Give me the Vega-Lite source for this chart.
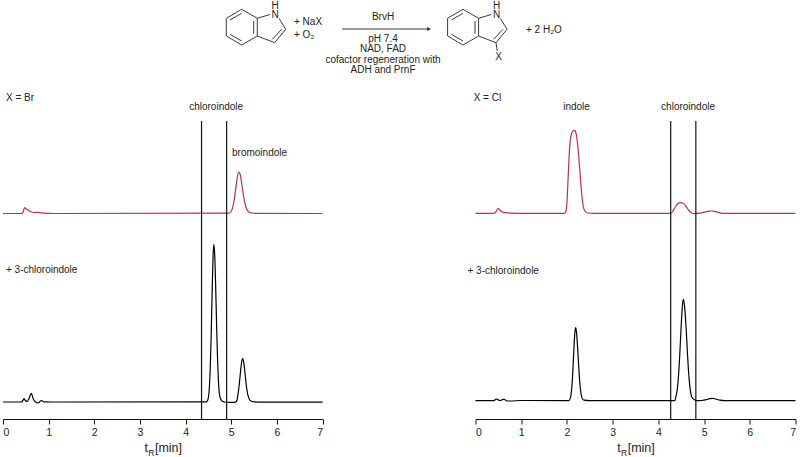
{
"$schema":"https://vega.github.io/schema/vega-lite/v6.json",
"padding":0,
"background":"white",
"spacing":0,
"bounds":"flush",
"config":{"view":{"stroke":null},"concat":{"spacing":0},"text":{"font":"Liberation Sans"},"axis":{"labelFont":"Liberation Sans","titleFont":"Liberation Sans"}},
"datasets":{
"bonds":[
{"x":242.7,"y":8.3,"x2":258.3,"y2":17.3},{"x":258.3,"y":17.3,"x2":258.3,"y2":35},{"x":258.3,"y":35,"x2":242.7,"y2":44},{"x":242.7,"y":44,"x2":227.3,"y2":35},{"x":227.3,"y":35,"x2":227.3,"y2":17.3},{"x":227.3,"y":17.3,"x2":242.7,"y2":8.3},
{"x":231,"y":19,"x2":242.7,"y2":12.3},{"x":254.7,"y":20,"x2":254.7,"y2":32.7},{"x":231,"y":33.3,"x2":242.7,"y2":40},
{"x":258.3,"y":17.3,"x2":271,"y2":13.5},{"x":280,"y":17.3,"x2":286.7,"y2":28.3},{"x":286.7,"y":28.3,"x2":275.7,"y2":41.7},{"x":282.7,"y":28.3,"x2":273.3,"y2":38.3},{"x":275.7,"y":41.7,"x2":258.3,"y2":35},
{"x":464,"y":8.3,"x2":479.6,"y2":17.3},{"x":479.6,"y":17.3,"x2":479.6,"y2":35},{"x":479.6,"y":35,"x2":464,"y2":44},{"x":464,"y":44,"x2":448.6,"y2":35},{"x":448.6,"y":35,"x2":448.6,"y2":17.3},{"x":448.6,"y":17.3,"x2":464,"y2":8.3},
{"x":452.3,"y":19,"x2":464,"y2":12.3},{"x":476,"y":20,"x2":476,"y2":32.7},{"x":452.3,"y":33.3,"x2":464,"y2":40},
{"x":479.6,"y":17.3,"x2":492.3,"y2":13.5},{"x":501.3,"y":17.3,"x2":508,"y2":28.3},{"x":508,"y":28.3,"x2":497,"y2":41.7},{"x":504,"y":28.3,"x2":494.6,"y2":38.3},{"x":497,"y":41.7,"x2":479.6,"y2":35},{"x":497,"y":41.7,"x2":498.3,"y2":50},
{"x":343,"y":28,"x2":428,"y2":28}
],
"schemeText":[
{"x":276,"y":14,"label":"N"},{"x":276,"y":4.5,"label":"H"},{"x":497.5,"y":14,"label":"N"},{"x":497.5,"y":4.5,"label":"H"},{"x":499.5,"y":55.7,"label":"X"},
{"x":384,"y":16,"label":"BrvH"},{"x":384,"y":37.5,"label":"pH 7.4"},{"x":384,"y":48,"label":"NAD, FAD"},{"x":384,"y":58.5,"label":"cofactor regeneration with"},{"x":384,"y":69,"label":"ADH and PrnF"}
],
"schemeLeft":[
{"x":295,"y":21,"label":"+ NaX"},{"x":295,"y":34,"label":"+ O₂"},{"x":527,"y":29,"label":"+ 2 H₂O"}
],
"left":[
{"t":0,"signal":205.5,"series":"X"},{"t":0.42,"signal":205.5,"series":"X"},{"t":0.44,"signal":207,"series":"X"},{"t":0.46,"signal":210,"series":"X"},{"t":0.48,"signal":211.3,"series":"X"},{"t":0.5,"signal":210.5,"series":"X"},{"t":0.54,"signal":209,"series":"X"},{"t":0.6,"signal":207.5,"series":"X"},{"t":0.68,"signal":206.5,"series":"X"},{"t":0.75,"signal":206.6,"series":"X"},{"t":0.8,"signal":206.4,"series":"X"},{"t":0.9,"signal":205.8,"series":"X"},{"t":1.1,"signal":205.5,"series":"X"},{"t":4.95,"signal":205.8,"series":"X"},{"t":4.99,"signal":207,"series":"X"},{"t":5.03,"signal":211.1,"series":"X"},{"t":5.07,"signal":220.4,"series":"X"},{"t":5.11,"signal":234.1,"series":"X"},{"t":5.14,"signal":243.3,"series":"X"},{"t":5.17,"signal":247,"series":"X"},{"t":5.2,"signal":243.8,"series":"X"},{"t":5.23,"signal":235.5,"series":"X"},{"t":5.27,"signal":223,"series":"X"},{"t":5.31,"signal":214,"series":"X"},{"t":5.35,"signal":209,"series":"X"},{"t":5.39,"signal":207,"series":"X"},{"t":5.45,"signal":206,"series":"X"},{"t":5.52,"signal":205.6,"series":"X"},{"t":7,"signal":205.5,"series":"X"},
{"t":0,"signal":17,"series":"Cl"},{"t":0.4,"signal":17,"series":"Cl"},{"t":0.43,"signal":18,"series":"Cl"},{"t":0.46,"signal":20.3,"series":"Cl"},{"t":0.49,"signal":18.5,"series":"Cl"},{"t":0.53,"signal":17.5,"series":"Cl"},{"t":0.57,"signal":20.5,"series":"Cl"},{"t":0.62,"signal":25.7,"series":"Cl"},{"t":0.66,"signal":20.5,"series":"Cl"},{"t":0.71,"signal":17,"series":"Cl"},{"t":0.77,"signal":16,"series":"Cl"},{"t":0.84,"signal":18.5,"series":"Cl"},{"t":0.9,"signal":17.2,"series":"Cl"},{"t":1.2,"signal":17,"series":"Cl"},{"t":4.46,"signal":17.2,"series":"Cl"},{"t":4.48,"signal":18.2,"series":"Cl"},{"t":4.5,"signal":21.5,"series":"Cl"},{"t":4.52,"signal":30.4,"series":"Cl"},{"t":4.54,"signal":49.5,"series":"Cl"},{"t":4.56,"signal":81.8,"series":"Cl"},{"t":4.58,"signal":123,"series":"Cl"},{"t":4.6,"signal":160,"series":"Cl"},{"t":4.62,"signal":174.7,"series":"Cl"},{"t":4.64,"signal":162.6,"series":"Cl"},{"t":4.66,"signal":131.5,"series":"Cl"},{"t":4.68,"signal":93.8,"series":"Cl"},{"t":4.7,"signal":60.8,"series":"Cl"},{"t":4.72,"signal":38.3,"series":"Cl"},{"t":4.74,"signal":25.8,"series":"Cl"},{"t":4.76,"signal":21,"series":"Cl"},{"t":4.8,"signal":18,"series":"Cl"},{"t":4.85,"signal":17,"series":"Cl"},{"t":4.95,"signal":16.7,"series":"Cl"},{"t":5.08,"signal":16.7,"series":"Cl"},{"t":5.11,"signal":17.5,"series":"Cl"},{"t":5.13,"signal":19.5,"series":"Cl"},{"t":5.15,"signal":25.3,"series":"Cl"},{"t":5.17,"signal":32,"series":"Cl"},{"t":5.19,"signal":40.9,"series":"Cl"},{"t":5.21,"signal":50,"series":"Cl"},{"t":5.23,"signal":57.5,"series":"Cl"},{"t":5.25,"signal":60.3,"series":"Cl"},{"t":5.27,"signal":57.8,"series":"Cl"},{"t":5.29,"signal":51,"series":"Cl"},{"t":5.31,"signal":42.5,"series":"Cl"},{"t":5.33,"signal":34,"series":"Cl"},{"t":5.36,"signal":25,"series":"Cl"},{"t":5.39,"signal":20.5,"series":"Cl"},{"t":5.43,"signal":18,"series":"Cl"},{"t":5.5,"signal":17.2,"series":"Cl"},{"t":5.7,"signal":16.8,"series":"Cl"},{"t":7,"signal":16.8,"series":"Cl"}
],
"right":[
{"t":0,"signal":205.7,"series":"X"},{"t":0.4,"signal":205.7,"series":"X"},{"t":0.44,"signal":206.5,"series":"X"},{"t":0.47,"signal":209,"series":"X"},{"t":0.5,"signal":210.7,"series":"X"},{"t":0.53,"signal":209,"series":"X"},{"t":0.58,"signal":207.3,"series":"X"},{"t":0.65,"signal":206.3,"series":"X"},{"t":0.8,"signal":205.9,"series":"X"},{"t":1,"signal":205.7,"series":"X"},{"t":1.93,"signal":205.7,"series":"X"},{"t":1.96,"signal":206,"series":"X"},{"t":1.98,"signal":208,"series":"X"},{"t":2,"signal":216,"series":"X"},{"t":2.02,"signal":235,"series":"X"},{"t":2.04,"signal":255,"series":"X"},{"t":2.06,"signal":272,"series":"X"},{"t":2.08,"signal":281,"series":"X"},{"t":2.11,"signal":286.5,"series":"X"},{"t":2.15,"signal":288.7,"series":"X"},{"t":2.18,"signal":288,"series":"X"},{"t":2.21,"signal":283,"series":"X"},{"t":2.24,"signal":272,"series":"X"},{"t":2.27,"signal":256,"series":"X"},{"t":2.3,"signal":238,"series":"X"},{"t":2.33,"signal":222,"series":"X"},{"t":2.36,"signal":212,"series":"X"},{"t":2.4,"signal":207.5,"series":"X"},{"t":2.45,"signal":206,"series":"X"},{"t":2.6,"signal":205.7,"series":"X"},{"t":4.25,"signal":205.7,"series":"X"},{"t":4.27,"signal":205.8,"series":"X"},{"t":4.32,"signal":208,"series":"X"},{"t":4.37,"signal":212,"series":"X"},{"t":4.42,"signal":215,"series":"X"},{"t":4.48,"signal":216.3,"series":"X"},{"t":4.54,"signal":215.8,"series":"X"},{"t":4.6,"signal":213,"series":"X"},{"t":4.66,"signal":209,"series":"X"},{"t":4.72,"signal":206.3,"series":"X"},{"t":4.8,"signal":205.3,"series":"X"},{"t":4.9,"signal":205.8,"series":"X"},{"t":5,"signal":206.8,"series":"X"},{"t":5.1,"signal":207.8,"series":"X"},{"t":5.17,"signal":208,"series":"X"},{"t":5.25,"signal":207.4,"series":"X"},{"t":5.35,"signal":206.2,"series":"X"},{"t":5.45,"signal":205.6,"series":"X"},{"t":5.6,"signal":205.7,"series":"X"},{"t":7,"signal":205.7,"series":"X"},
{"t":0,"signal":18.3,"series":"Cl"},{"t":0.4,"signal":18.3,"series":"Cl"},{"t":0.44,"signal":19.5,"series":"Cl"},{"t":0.47,"signal":20,"series":"Cl"},{"t":0.5,"signal":19,"series":"Cl"},{"t":0.55,"signal":18.5,"series":"Cl"},{"t":0.6,"signal":19.6,"series":"Cl"},{"t":0.63,"signal":19.6,"series":"Cl"},{"t":0.68,"signal":18.2,"series":"Cl"},{"t":0.75,"signal":18,"series":"Cl"},{"t":1,"signal":18.5,"series":"Cl"},{"t":2.04,"signal":18.4,"series":"Cl"},{"t":2.07,"signal":20.4,"series":"Cl"},{"t":2.09,"signal":24.5,"series":"Cl"},{"t":2.11,"signal":33.3,"series":"Cl"},{"t":2.13,"signal":48.3,"series":"Cl"},{"t":2.15,"signal":67.5,"series":"Cl"},{"t":2.17,"signal":84.4,"series":"Cl"},{"t":2.19,"signal":91.3,"series":"Cl"},{"t":2.21,"signal":86.6,"series":"Cl"},{"t":2.23,"signal":74.4,"series":"Cl"},{"t":2.25,"signal":58.6,"series":"Cl"},{"t":2.27,"signal":43.6,"series":"Cl"},{"t":2.29,"signal":32,"series":"Cl"},{"t":2.31,"signal":25,"series":"Cl"},{"t":2.34,"signal":20,"series":"Cl"},{"t":2.38,"signal":18.8,"series":"Cl"},{"t":2.5,"signal":18.3,"series":"Cl"},{"t":4.36,"signal":18.3,"series":"Cl"},{"t":4.38,"signal":21.6,"series":"Cl"},{"t":4.41,"signal":28.3,"series":"Cl"},{"t":4.44,"signal":42.5,"series":"Cl"},{"t":4.47,"signal":65.8,"series":"Cl"},{"t":4.5,"signal":93.7,"series":"Cl"},{"t":4.53,"signal":115,"series":"Cl"},{"t":4.55,"signal":119.7,"series":"Cl"},{"t":4.58,"signal":109.6,"series":"Cl"},{"t":4.61,"signal":88.6,"series":"Cl"},{"t":4.64,"signal":62.7,"series":"Cl"},{"t":4.67,"signal":41.6,"series":"Cl"},{"t":4.7,"signal":28.6,"series":"Cl"},{"t":4.73,"signal":22,"series":"Cl"},{"t":4.77,"signal":20,"series":"Cl"},{"t":4.83,"signal":18.3,"series":"Cl"},{"t":4.95,"signal":18.5,"series":"Cl"},{"t":5.05,"signal":19.3,"series":"Cl"},{"t":5.12,"signal":20.3,"series":"Cl"},{"t":5.18,"signal":20.7,"series":"Cl"},{"t":5.25,"signal":20,"series":"Cl"},{"t":5.35,"signal":18.8,"series":"Cl"},{"t":5.45,"signal":18.3,"series":"Cl"},{"t":7,"signal":18.3,"series":"Cl"}
]
},
"vconcat":[
{"width":796,"height":90,
"layer":[
{"data":{"name":"bonds"},"mark":{"type":"rule","color":"#222","strokeWidth":0.9},"encoding":{
"x":{"field":"x","type":"quantitative","scale":{"domain":[4,800],"nice":false},"axis":null},
"x2":{"field":"x2"},
"y":{"field":"y","type":"quantitative","scale":{"domain":[90,0],"nice":false},"axis":null},
"y2":{"field":"y2"}}},
{"data":{"values":[{"x":430,"y":28}]},"mark":{"type":"point","shape":"triangle-right","filled":true,"size":18,"color":"#222","opacity":1},"encoding":{"x":{"field":"x","type":"quantitative"},"y":{"field":"y","type":"quantitative"}}},
{"data":{"name":"schemeText"},"mark":{"type":"text","fontSize":10,"color":"#222","baseline":"middle","align":"center"},"encoding":{"x":{"field":"x","type":"quantitative"},"y":{"field":"y","type":"quantitative"},"text":{"field":"label"}}},
{"data":{"name":"schemeLeft"},"mark":{"type":"text","fontSize":10,"color":"#222","baseline":"middle","align":"left"},"encoding":{"x":{"field":"x","type":"quantitative"},"y":{"field":"y","type":"quantitative"},"text":{"field":"label"}}}
]},
{"bounds":"flush","spacing":152.5,"hconcat":[
{"width":319.5,"height":328,
"layer":[
{"data":{"name":"left"},"mark":{"type":"line","strokeWidth":1.2,"interpolate":"monotone"},"encoding":{
"x":{"field":"t","type":"quantitative","scale":{"domain":[0,7],"nice":false},"axis":{"title":"t\u00a0\u00a0[min]","values":[0,0.5,1,1.5,2,2.5,3,3.5,4,4.5,5,5.5,6,6.5,7],"labelExpr":"datum.value % 1 === 0 ? datum.label : ''","grid":false,"domainColor":"#111","tickColor":"#111","domainWidth":1.1,"tickWidth":1,"tickSize":{"condition":{"test":"datum.value % 1 !== 0","value":3},"value":5},"labelFontSize":10.5,"labelColor":"#222","labelPadding":3,"titleFontSize":12.5,"titleFontWeight":"normal","titleColor":"#222","titlePadding":4}},
"y":{"field":"signal","type":"quantitative","scale":{"domain":[0,328],"nice":false},"axis":null},
"color":{"field":"series","type":"nominal","scale":{"domain":["X","Cl"],"range":["#b8324a","#000000"]},"legend":null},
"detail":{"field":"series"}}},
{"data":{"values":[{"t":4.35},{"t":4.9}]},"mark":{"type":"rule","color":"#111","strokeWidth":1.2},"encoding":{"x":{"field":"t","type":"quantitative"},"y":{"datum":0},"y2":{"datum":298}}},
{"data":{"values":[{"t":4.67,"signal":312,"label":"chloroindole"},{"t":5.62,"signal":265.7,"label":"bromoindole"}]},"mark":{"type":"text","fontSize":10,"color":"#222","baseline":"middle","align":"center"},"encoding":{"x":{"field":"t","type":"quantitative"},"y":{"field":"signal","type":"quantitative"},"text":{"field":"label"}}},
{"data":{"values":[{"t":0.065,"signal":321,"label":"X = Br"},{"t":0.065,"signal":148.7,"label":"+ 3-chloroindole"}]},"mark":{"type":"text","fontSize":10,"color":"#222","baseline":"middle","align":"left"},"encoding":{"x":{"field":"t","type":"quantitative"},"y":{"field":"signal","type":"quantitative"},"text":{"field":"label"}}},
{"data":{"values":[{"t":3.25,"signal":-34,"label":"R"}]},"mark":{"type":"text","fontSize":8.5,"color":"#222","baseline":"middle","align":"center"},"encoding":{"x":{"field":"t","type":"quantitative"},"y":{"field":"signal","type":"quantitative"},"text":{"field":"label"}}}
]},
{"width":320,"height":328,
"layer":[
{"data":{"name":"right"},"mark":{"type":"line","strokeWidth":1.2,"interpolate":"monotone"},"encoding":{
"x":{"field":"t","type":"quantitative","scale":{"domain":[0,7],"nice":false},"axis":{"title":"t\u00a0\u00a0[min]","values":[0,0.5,1,1.5,2,2.5,3,3.5,4,4.5,5,5.5,6,6.5,7],"labelExpr":"datum.value % 1 === 0 ? datum.label : ''","grid":false,"domainColor":"#111","tickColor":"#111","domainWidth":1.1,"tickWidth":1,"tickSize":{"condition":{"test":"datum.value % 1 !== 0","value":3},"value":5},"labelFontSize":10.5,"labelColor":"#222","labelPadding":3,"titleFontSize":12.5,"titleFontWeight":"normal","titleColor":"#222","titlePadding":4}},
"y":{"field":"signal","type":"quantitative","scale":{"domain":[0,328],"nice":false},"axis":null},
"color":{"field":"series","type":"nominal","scale":{"domain":["X","Cl"],"range":["#b8324a","#000000"]},"legend":null},
"detail":{"field":"series"}}},
{"data":{"values":[{"t":4.27},{"t":4.82}]},"mark":{"type":"rule","color":"#111","strokeWidth":1.2},"encoding":{"x":{"field":"t","type":"quantitative"},"y":{"datum":0},"y2":{"datum":298}}},
{"data":{"values":[{"t":2.21,"signal":312,"label":"indole"},{"t":4.65,"signal":312,"label":"chloroindole"}]},"mark":{"type":"text","fontSize":10,"color":"#222","baseline":"middle","align":"center"},"encoding":{"x":{"field":"t","type":"quantitative"},"y":{"field":"signal","type":"quantitative"},"text":{"field":"label"}}},
{"data":{"values":[{"t":-0.04,"signal":321,"label":"X = Cl"},{"t":-0.175,"signal":148.5,"label":"+ 3-chloroindole"}]},"mark":{"type":"text","fontSize":10,"color":"#222","baseline":"middle","align":"left"},"encoding":{"x":{"field":"t","type":"quantitative"},"y":{"field":"signal","type":"quantitative"},"text":{"field":"label"}}},
{"data":{"values":[{"t":3.25,"signal":-34,"label":"R"}]},"mark":{"type":"text","fontSize":8.5,"color":"#222","baseline":"middle","align":"center"},"encoding":{"x":{"field":"t","type":"quantitative"},"y":{"field":"signal","type":"quantitative"},"text":{"field":"label"}}}
]}
]}
]}
